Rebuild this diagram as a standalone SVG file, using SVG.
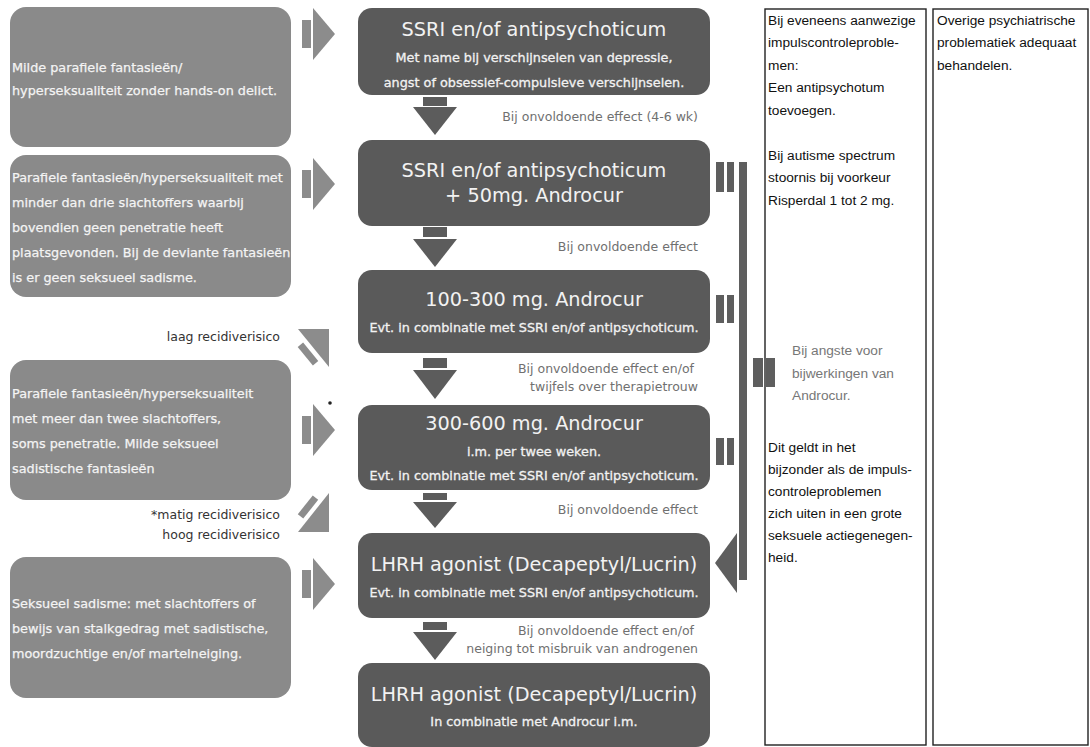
<svg xmlns="http://www.w3.org/2000/svg" width="1090" height="747" viewBox="0 0 1090 747">
<style>
.lbox{fill:#8a8a8a}
.dbox{fill:#5a5a5a}
.ltxt{font-family:"DejaVu Sans",Verdana,sans-serif;font-size:12.8px;fill:#f4f4f4;stroke:#f4f4f4;stroke-width:0.25}
.ttl{font-family:"DejaVu Sans",Verdana,sans-serif;font-size:19.3px;fill:#f2f2f2;text-anchor:middle}
.sub{font-family:"DejaVu Sans",Verdana,sans-serif;font-size:12.8px;fill:#f2f2f2;stroke:#f2f2f2;stroke-width:0.3;text-anchor:middle}
.lbl{font-family:"DejaVu Sans",Verdana,sans-serif;font-size:12.5px;fill:#707070;text-anchor:end}
.risk{font-family:"DejaVu Sans",Verdana,sans-serif;font-size:12.5px;fill:#333;text-anchor:end}
.col{fill:#fff;stroke:#222;stroke-width:1.4}
.ctxt{font-family:"Liberation Sans",Arial,sans-serif;font-size:13.7px;fill:#111}
.gtxt{font-family:"Liberation Sans",Arial,sans-serif;font-size:13.7px;fill:#777}
.darr{fill:#5c5c5c}
.rarr{fill:#8c8c8c}
.bar{fill:#5e5e5e}
</style>
<rect width="1090" height="747" fill="#fff"/>

<g id="col-1">
<rect class="col" x="765" y="9" width="161" height="736"/>
<text class="ctxt" x="768" y="25">Bij eveneens aanwezige</text>
<text class="ctxt" x="768" y="47">impulscontroleproble-</text>
<text class="ctxt" x="768" y="70">men:</text>
<text class="ctxt" x="768" y="92">Een antipsychotum</text>
<text class="ctxt" x="768" y="115">toevoegen.</text>
<text class="ctxt" x="768" y="160">Bij autisme spectrum</text>
<text class="ctxt" x="768" y="182">stoornis bij voorkeur</text>
<text class="ctxt" x="768" y="205">Risperdal 1 tot 2 mg.</text>
<text class="gtxt" x="792" y="355">Bij angste voor</text>
<text class="gtxt" x="792" y="378">bijwerkingen van</text>
<text class="gtxt" x="792" y="400">Androcur.</text>
<text class="ctxt" x="768" y="452">Dit geldt in het</text>
<text class="ctxt" x="768" y="474">bijzonder als de impuls-</text>
<text class="ctxt" x="768" y="496">controleproblemen</text>
<text class="ctxt" x="768" y="518">zich uiten in een grote</text>
<text class="ctxt" x="768" y="540">seksuele actiegenegen-</text>
<text class="ctxt" x="768" y="562">heid.</text>
</g>

<g id="col-2">
<rect class="col" x="933" y="9" width="155" height="736"/>
<text class="ctxt" x="937" y="25">Overige psychiatrische</text>
<text class="ctxt" x="937" y="47">problematiek adequaat</text>
<text class="ctxt" x="937" y="70">behandelen.</text>
</g>

<g id="cond-1">
<rect class="lbox" x="10" y="7" width="281" height="140" rx="16"/>
<text class="ltxt" x="12" y="72">Milde parafiele fantasieën/</text>
<text class="ltxt" x="12" y="95">hyperseksualiteit zonder hands-on delict.</text>
</g>
<g id="cond-2">
<rect class="lbox" x="10" y="155" width="281" height="142" rx="16"/>
<text class="ltxt" x="12" y="182">Parafiele fantasieën/hyperseksualiteit met</text>
<text class="ltxt" x="12" y="207">minder dan drie slachtoffers waarbij</text>
<text class="ltxt" x="12" y="232">bovendien geen penetratie heeft</text>
<text class="ltxt" x="12" y="257">plaatsgevonden. Bij de deviante fantasieën</text>
<text class="ltxt" x="12" y="282">is er geen seksueel sadisme.</text>
</g>
<g id="cond-3">
<rect class="lbox" x="10" y="360" width="281" height="140" rx="16"/>
<text class="ltxt" x="12" y="398">Parafiele fantasieën/hyperseksualiteit</text>
<text class="ltxt" x="12" y="423">met meer dan twee slachtoffers,</text>
<text class="ltxt" x="12" y="448">soms penetratie. Milde seksueel</text>
<text class="ltxt" x="12" y="473">sadistische fantasieën</text>
</g>
<g id="cond-4">
<rect class="lbox" x="10" y="557" width="281" height="141" rx="16"/>
<text class="ltxt" x="12" y="608">Seksueel sadisme: met slachtoffers of</text>
<text class="ltxt" x="12" y="633">bewijs van stalkgedrag met sadistische,</text>
<text class="ltxt" x="12" y="658">moordzuchtige en/of martelneiging.</text>
</g>

<g id="risk-labels">
<text class="risk" x="280" y="341">laag recidiverisico</text>
<text class="risk" x="280" y="519">*matig recidiverisico</text>
<text class="risk" x="280" y="539">hoog recidiverisico</text>
</g>

<g id="step-1">
<rect class="dbox" x="358" y="8" width="352" height="87" rx="14"/>
<text class="ttl" x="534" y="36">SSRI en/of antipsychoticum</text>
<text class="sub" x="534" y="62">Met name bij verschijnselen van depressie,</text>
<text class="sub" x="534" y="87">angst of obsessief-compulsieve verschijnselen.</text>
</g>
<g id="step-2">
<rect class="dbox" x="358" y="140" width="352" height="86" rx="14"/>
<text class="ttl" x="534" y="177">SSRI en/of antipsychoticum</text>
<text class="ttl" x="534" y="202">+ 50mg. Androcur</text>
</g>
<g id="step-3">
<rect class="dbox" x="358" y="270" width="352" height="83" rx="14"/>
<text class="ttl" x="534" y="306">100-300 mg. Androcur</text>
<text class="sub" x="534" y="332">Evt. in combinatie met SSRI en/of antipsychoticum.</text>
</g>
<g id="step-4">
<rect class="dbox" x="358" y="405" width="352" height="85" rx="14"/>
<text class="ttl" x="534" y="430">300-600 mg. Androcur</text>
<text class="sub" x="534" y="456">i.m. per twee weken.</text>
<text class="sub" x="534" y="480">Evt. in combinatie met SSRI en/of antipsychoticum.</text>
</g>
<g id="step-5">
<rect class="dbox" x="358" y="533" width="352" height="85" rx="14"/>
<text class="ttl" x="534" y="571">LHRH agonist (Decapeptyl/Lucrin)</text>
<text class="sub" x="534" y="597">Evt. in combinatie met SSRI en/of antipsychoticum.</text>
</g>
<g id="step-6">
<rect class="dbox" x="358" y="663" width="352" height="84" rx="14"/>
<text class="ttl" x="534" y="701">LHRH agonist (Decapeptyl/Lucrin)</text>
<text class="sub" x="534" y="726">In combinatie met Androcur i.m.</text>
</g>

<g id="connectors">
<rect class="darr" x="423" y="97" width="24" height="9"/>
<polygon class="darr" points="413,107 457,107 435,135"/>
<rect class="darr" x="423" y="227" width="24" height="10"/>
<polygon class="darr" points="413,239 457,239 435,267"/>
<rect class="darr" x="423" y="358" width="24" height="10"/>
<polygon class="darr" points="413,370 457,370 435,399"/>
<rect class="darr" x="423" y="493" width="24" height="7"/>
<polygon class="darr" points="413,502 457,502 435,528"/>
<rect class="darr" x="423" y="622" width="24" height="8"/>
<polygon class="darr" points="413,632 457,632 435,660"/>

<text class="lbl" x="698" y="121">Bij onvoldoende effect (4-6 wk)</text>
<text class="lbl" x="698" y="251">Bij onvoldoende effect</text>
<text class="lbl" x="694" y="373">Bij onvoldoende effect en/of</text>
<text class="lbl" x="698" y="391">twijfels over therapietrouw</text>
<text class="lbl" x="698" y="514">Bij onvoldoende effect</text>
<text class="lbl" x="694" y="635">Bij onvoldoende effect en/of</text>
<text class="lbl" x="698" y="653">neiging tot misbruik van androgenen</text>

<rect class="rarr" x="302" y="20" width="9" height="28"/>
<polygon class="rarr" points="313,8 313,60 335,34"/>
<rect class="rarr" x="302" y="170" width="9" height="28"/>
<polygon class="rarr" points="313,158 313,210 335,184"/>
<rect class="rarr" x="302" y="416" width="9" height="28"/>
<polygon class="rarr" points="313,404 313,456 335,430"/>
<circle cx="330" cy="403" r="1.8" fill="#222"/>
<rect class="rarr" x="302" y="570" width="9" height="28"/>
<polygon class="rarr" points="313,558 313,610 335,584"/>

<polygon class="rarr" points="298,329 329,329 329,367"/>
<rect class="rarr" x="-12" y="-3.5" width="24" height="7" transform="translate(308,354) rotate(50.8)"/>
<polygon class="rarr" points="298,532 329,532 329,493"/>
<rect class="rarr" x="-12" y="-3.5" width="24" height="7" transform="translate(308,507) rotate(-51.5)"/>

<rect class="bar" x="716" y="162" width="8" height="30"/>
<rect class="bar" x="727" y="162" width="7" height="30"/>
<rect class="bar" x="716" y="295" width="8" height="28"/>
<rect class="bar" x="727" y="295" width="7" height="28"/>
<rect class="bar" x="716" y="438" width="8" height="27"/>
<rect class="bar" x="727" y="438" width="7" height="27"/>
<rect class="bar" x="739" y="162" width="8" height="418"/>
<polygon class="bar" points="737,533 737,593 715,563"/>
<rect class="bar" x="753" y="358" width="10" height="29"/>
<rect class="bar" x="766" y="358" width="9" height="29"/>
</g>
</svg>
